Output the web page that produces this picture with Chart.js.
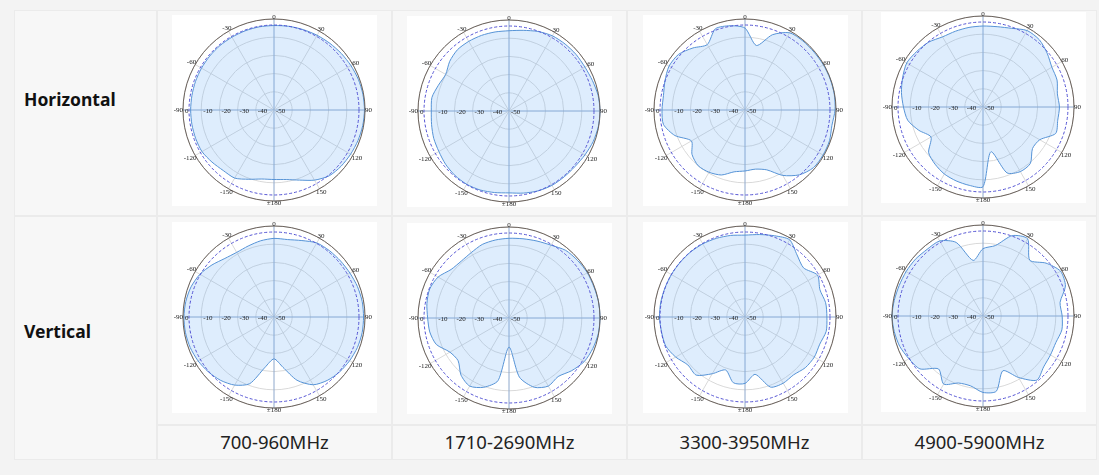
<!DOCTYPE html>
<html>
<head>
<meta charset="utf-8">
<script src="https://cdn.jsdelivr.net/npm/chart.js@4.4.0/dist/chart.umd.min.js"></script>
<style>
body { margin:0; background:#f3f3f3; width:1099px; height:475px; overflow:hidden; font-family:"Noto Sans", "Open Sans", sans-serif; }
.cell { position:absolute; box-sizing:border-box; background:#f7f7f7; border:1px solid #ebebeb; }
.panel { position:absolute; background:#fff; }
.rowlabel { position:absolute; left:24px; font-weight:bold; font-size:17.5px; line-height:20px; color:#111; }
.band { position:absolute; font-size:18.5px; line-height:20px; color:#222; text-align:center; width:235px; }
canvas.pat { position:absolute; }
</style>
</head>
<body>
<div id="page"></div>
<script>
// angles every 10 deg, clockwise from top
var angles = [];
for (var a = 0; a < 360; a += 10) angles.push(a);
var angleLabels = ['0', '30', '60', '90', '120', '150', '\u00b1180', '-150', '-120', '-90', '-60', '-30'];
var radialTicks = [0, -10, -20, -30, -40, -50];
var radialTickLabels = ['0', '-10', '-20', '-30', '-40', '-50'];
var REF_DB = -3.3;

var bands = ['700-960MHz', '1710-2690MHz', '3300-3950MHz', '4900-5900MHz'];
var rowNames = ['Horizontal', 'Vertical'];

// gain in dB (0..350 deg)
var H_700_960   = [-3.6,-3.3,-3.0,-2.6,-2.2,-1.7,-1.2,-0.7,-0.4,-0.3,-0.5,-0.9,-1.4,-1.9,-2.8,-5.5,-9.0,-11.2,-11.8,-11.5,-9.5,-6.8,-6.6,-5.5,-4.3,-4.2,-4.2,-4.2,-4.2,-4.1,-4.0,-3.9,-3.8,-3.8,-3.7,-3.6];
var H_1710_2690 = [-5.9,-5.0,-3.5,-2.3,-2.0,-1.8,-1.8,-1.2,-0.3,0,-0.2,-0.8,-1.8,-2.6,-2.8,-2.8,-3.3,-4.2,-5.0,-4.5,-3.8,-3.5,-3.8,-4.5,-5.5,-6.0,-6.8,-7.3,-7.0,-8.7,-9.8,-7.5,-6.0,-5.8,-5.8,-5.9];
var H_3300_3950 = [-5.0,-14,-6.0,-1.0,-0.5,-0.5,-0.3,-0.2,-0.2,-0.5,-1.5,-0.6,-0.5,-0.8,-3.5,-8.5,-15,-17,-16.5,-15.5,-12,-10.5,-10,-12,-16,-9.0,-4.5,-4.4,-4.5,-3.2,-1.8,-2.4,-5.5,-8.5,-2.5,-3.0];
var H_4900_5900 = [-5.5,-5.2,-4.0,-1.5,-1.8,-4.0,-6.3,-6.7,-8.5,-8.0,-8.3,-7.5,-14,-14.5,-9.5,-9.0,-11.5,-25,-6.2,-6.3,-6.8,-7.5,-9.0,-11,-17,-12.5,-8.0,-6.3,-4.5,-3.0,-1.6,-2.5,-3.5,-5.5,-5.7,-5.6];
var V_700_960   = [-6.8,-6.8,-5.3,-3.0,-2.5,-2.2,-1.8,-1.2,-0.8,-0.8,-0.8,-1.2,-2.0,-3.0,-4.5,-7.0,-13,-22,-27,-22,-11,-6.8,-4.5,-3.0,-1.8,-1.0,-0.6,-0.5,-0.8,-1.5,-3.0,-5.5,-8.0,-9.0,-8.5,-7.5];
var V_1710_2690 = [-6.2,-5.8,-5.0,-3.8,-1.5,-0.8,-0.3,-0.3,0,0,-0.2,-1.0,-2.2,-5.0,-8.0,-6.8,-9.5,-17,-34,-15,-9.5,-6.8,-9.0,-13.5,-12.5,-7.5,-5.8,-5.3,-4.2,-3.6,-5.0,-8.5,-9.2,-8.5,-7.0,-6.5];
var V_3300_3950 = [-5.0,-4.0,-2.5,-1.0,-5.5,-8.0,-4.0,-6.2,-5.0,-5.0,-4.7,-6.3,-6.0,-6.7,-8.5,-8.0,-9.0,-18,-13.5,-13.3,-19,-14,-8.3,-9.0,-6.0,-3.6,-3.4,-3.0,-3.0,-3.2,-3.3,-3.4,-3.4,-3.6,-4.0,-4.5];
var V_4900_5900 = [-13,-10.7,-3.0,-1.0,-10,-4.8,-0.8,-1.8,-7.0,-6.5,-6.0,-7.4,-7.2,-6.5,-4.0,-11,-18,-8.0,-8.0,-11,-10.8,-6.8,-12,-4.8,-3.0,-1.3,-0.5,0,-0.5,-1.0,-1.2,-1.5,-2.2,-2.4,-7.0,-19];

var patterns = [
  [H_700_960, H_1710_2690, H_3300_3950, H_4900_5900],
  [V_700_960, V_1710_2690, V_3300_3950, V_4900_5900]
];

// table geometry
var colX = [14, 157, 392, 627, 862, 1097];
var rowY = [10, 216, 425, 460];
var chartLeft = [172, 407, 643, 881];
var chartTop = [[15, 16, 15, 12], [222, 223, 222, 221]];
var PAD = 5;

var polarDecor = {
  id: 'polarDecor',
  afterDatasetsDraw: function(chart) {
    var r = chart.scales.r, ctx = chart.ctx;
    ctx.save();
    // -3 dB reference ring
    ctx.strokeStyle = '#5353d3';
    ctx.lineWidth = 1;
    ctx.setLineDash([3, 2]);
    ctx.beginPath();
    ctx.arc(r.xCenter, r.yCenter, r.getDistanceFromCenterForValue(REF_DB), 0, Math.PI * 2);
    ctx.stroke();
    ctx.setLineDash([]);
    // outer ring
    ctx.strokeStyle = '#6b625c';
    ctx.beginPath();
    ctx.arc(r.xCenter, r.yCenter, r.getDistanceFromCenterForValue(0), 0, Math.PI * 2);
    ctx.stroke();
    // angle labels
    ctx.font = '7px "Liberation Serif"';
    ctx.fillStyle = '#222';
    ctx.textAlign = 'center';
    ctx.textBaseline = 'middle';
    angleLabels.forEach(function(txt, i) {
      var w = ctx.measureText(txt).width;
      var s = Math.abs(Math.sin(i * Math.PI / 6));
      var p = r.getPointPosition(i * 3, r.drawingArea + 2 + s * Math.max(0, w / 2 - 2));
      ctx.fillText(txt, p.x, p.y);
    });
    // dB labels on the left axis
    ctx.textAlign = 'left';
    radialTicks.forEach(function(v, i) {
      var p = r.getPointPosition(27, r.getDistanceFromCenterForValue(v));
      ctx.fillText(radialTickLabels[i], p.x + 2, p.y + 1);
    });
    ctx.restore();
  }
};

var page = document.getElementById('page');

function addDiv(cls, l, t, w, h, txt) {
  var d = document.createElement('div');
  d.className = cls;
  d.style.left = l + 'px';
  d.style.top = t + 'px';
  if (w) d.style.width = w + 'px';
  if (h) d.style.height = h + 'px';
  if (txt) d.textContent = txt;
  page.appendChild(d);
  return d;
}

for (var ri = 0; ri < 3; ri++) {
  for (var ci = 0; ci < 5; ci++) {
    if (ci === 0 && ri === 2) continue;
    var bottom = (ci === 0 && ri === 1) ? rowY[3] : rowY[ri + 1];
    addDiv('cell', colX[ci], rowY[ri], colX[ci + 1] - colX[ci], bottom - rowY[ri]);
  }
}
addDiv('rowlabel', 24, 89).textContent = rowNames[0];
addDiv('rowlabel', 24, 321).textContent = rowNames[1];
bands.forEach(function(b, i) {
  addDiv('band', colX[i + 1], 432, 0, 0, b);
});

function makeChart(values, left, top) {
  addDiv('panel', left, top, 205, 191);
  var cv = document.createElement('canvas');
  cv.className = 'pat';
  cv.width = 205 + 2 * PAD;
  cv.height = 191 + 2 * PAD;
  cv.style.left = (left - PAD) + 'px';
  cv.style.top = (top - PAD) + 'px';
  page.appendChild(cv);
  new Chart(cv.getContext('2d'), {
    type: 'radar',
    data: {
      labels: angles,
      datasets: [{
        data: values,
        fill: 'start',
        backgroundColor: 'rgba(105,175,245,0.22)',
        borderColor: '#5693d6',
        borderWidth: 1,
        pointRadius: 0,
        tension: 0.25
      }]
    },
    options: {
      responsive: false,
      animation: false,
      devicePixelRatio: 1,
      layout: { padding: 4.5 + PAD },
      plugins: { legend: { display: false }, tooltip: { enabled: false } },
      scales: {
        r: {
          min: -50,
          max: 0,
          startAngle: 0,
          ticks: { display: false, stepSize: 10 },
          pointLabels: { display: false },
          grid: {
            circular: true,
            color: '#d9d9d9',
            lineWidth: 1
          },
          angleLines: {
            color: function(c) { return c.index % 9 === 0 ? '#8ea8cc' : '#d9d9d9'; },
            lineWidth: function(c) { return c.index % 3 === 0 ? 1 : 0; }
          }
        }
      }
    },
    plugins: [polarDecor]
  });
}

for (var row = 0; row < 2; row++) {
  for (var col = 0; col < 4; col++) {
    makeChart(patterns[row][col], chartLeft[col], chartTop[row][col]);
  }
}
</script>
</body>
</html>
